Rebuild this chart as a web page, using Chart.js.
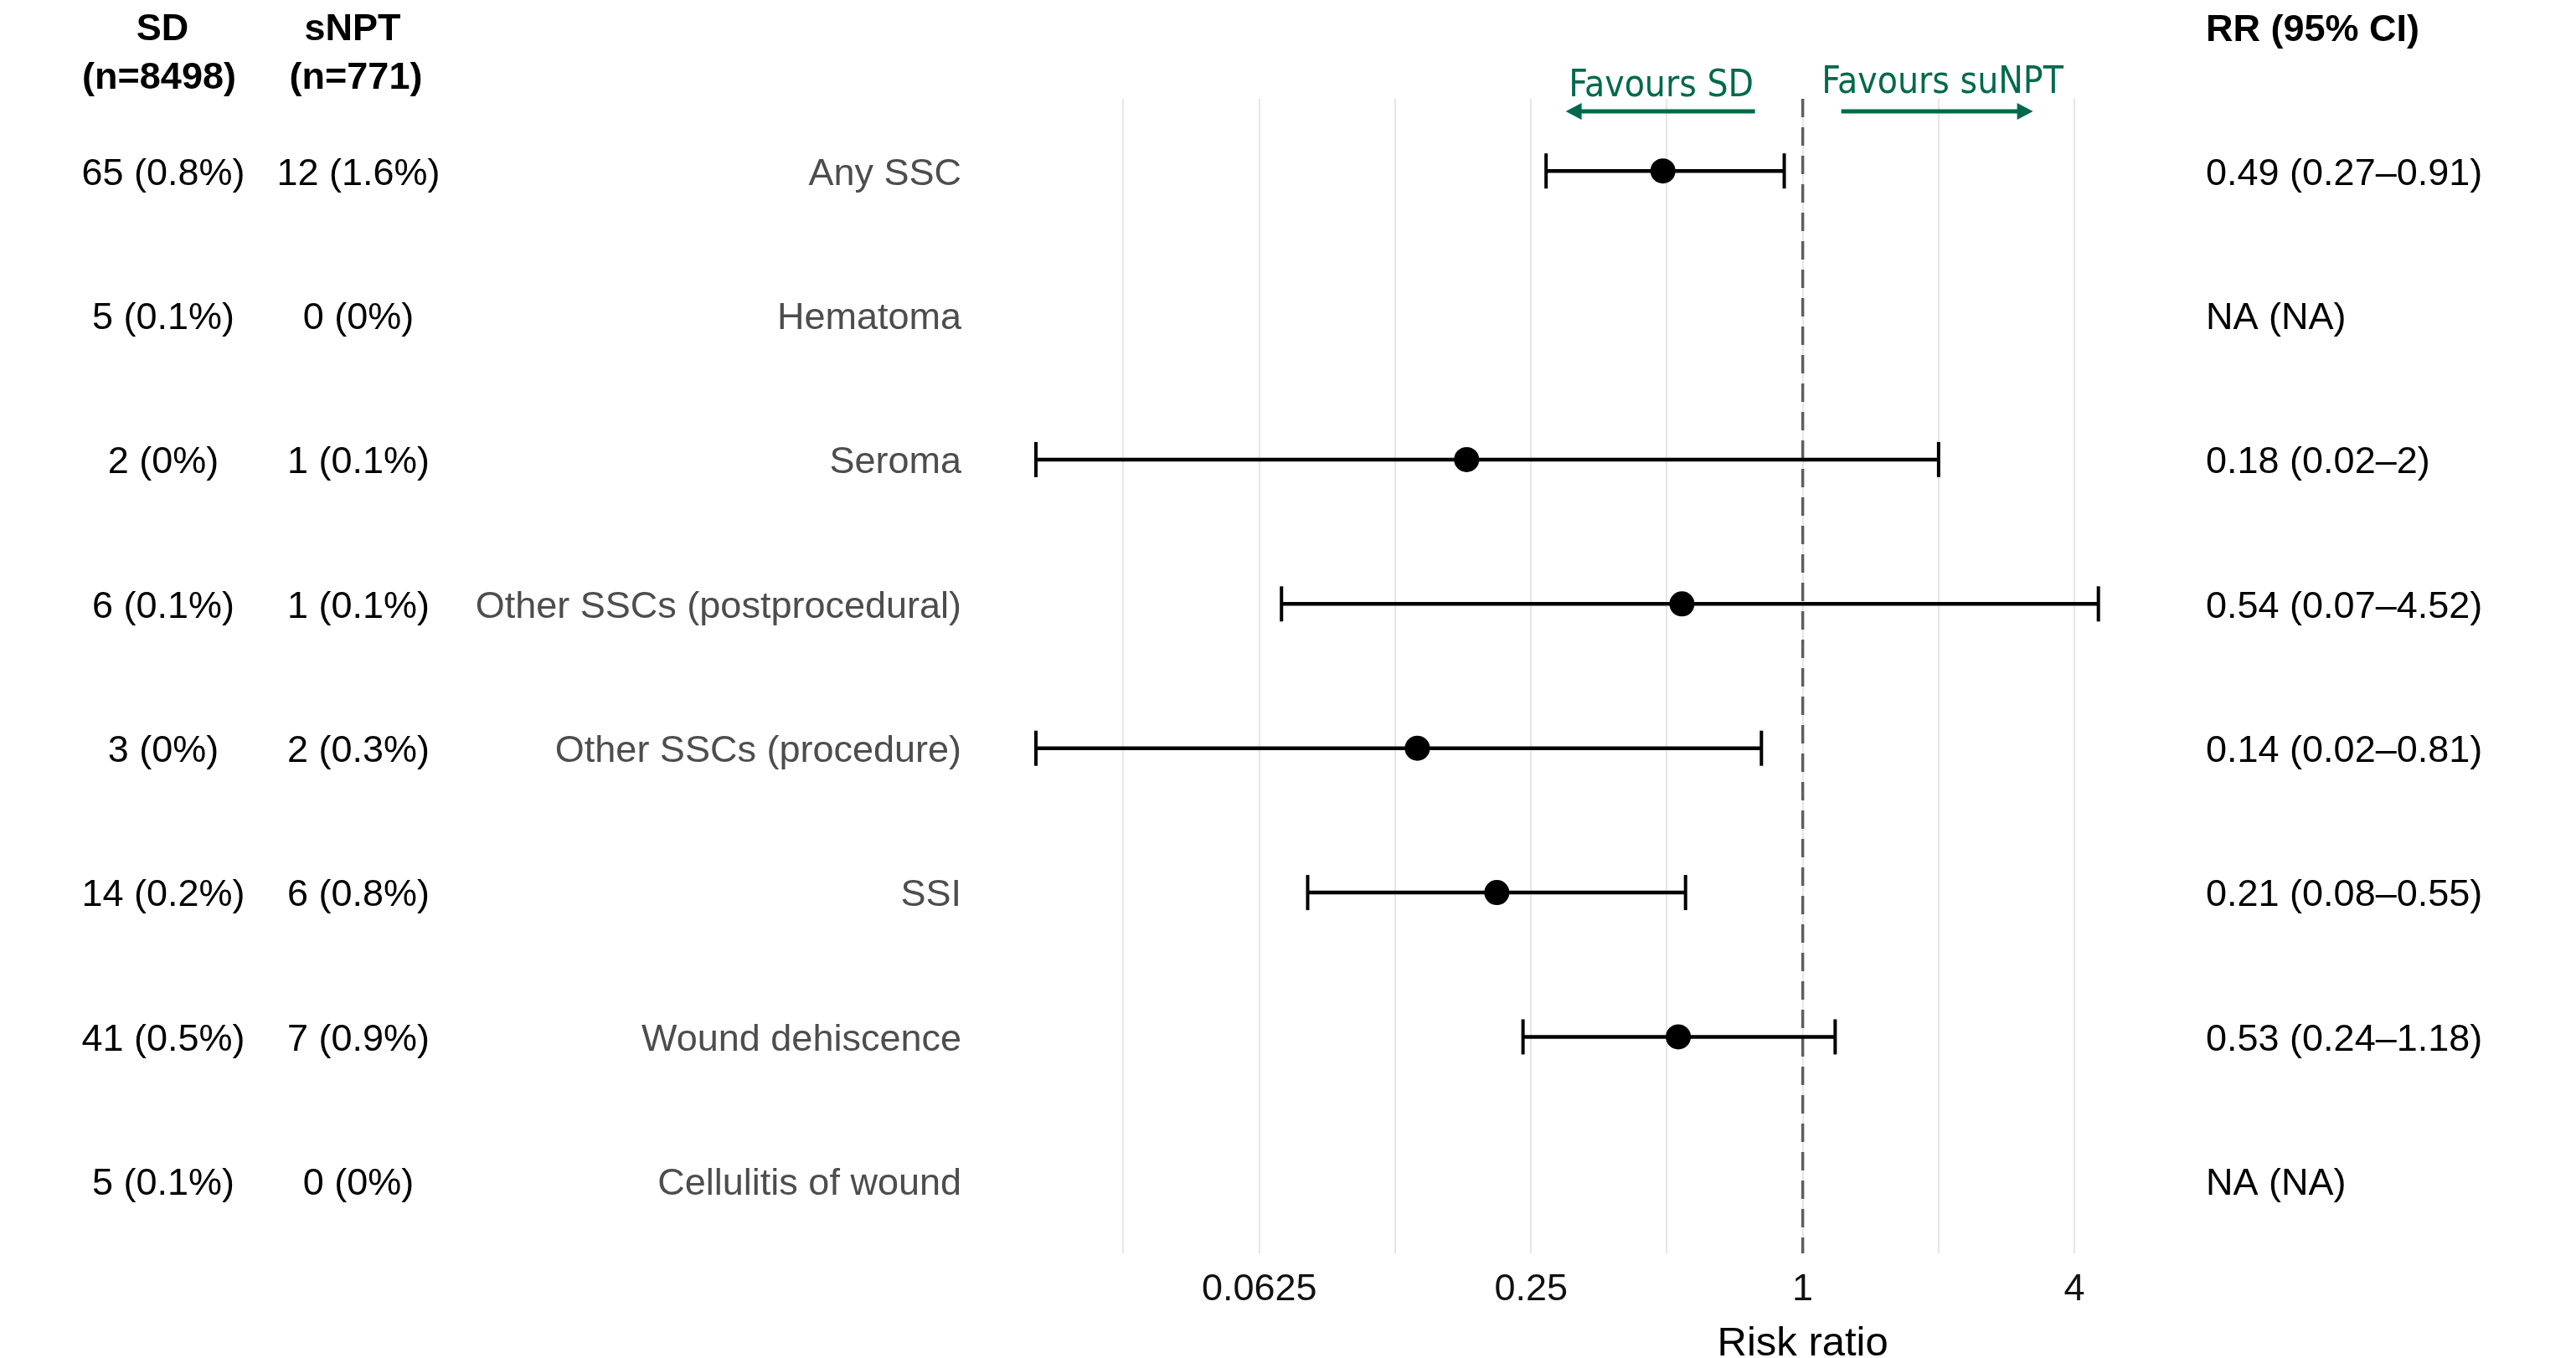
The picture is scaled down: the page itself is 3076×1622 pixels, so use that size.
<!DOCTYPE html>
<html>
<head>
<meta charset="utf-8">
<title>Surgical site complications, SD vs sNPT</title>
<script src="https://cdn.jsdelivr.net/npm/chart.js@4.4.1/dist/chart.umd.min.js"></script>
<style>
  html, body { margin: 0; padding: 0; background: #fff; }
  canvas { display: block; }
</style>
</head>
<body>
<canvas id="forestChart" width="3076" height="1622"></canvas>
<script>
// rows, top to bottom
const outcomes = ['Any SSC', 'Hematoma', 'Seroma', 'Other SSCs (postprocedural)',
  'Other SSCs (procedure)', 'SSI', 'Wound dehiscence', 'Cellulitis of wound'];
const sdEvents = [65, 5, 2, 6, 3, 14, 41, 5];
const sdPercent = [0.8, 0.1, 0, 0.1, 0, 0.2, 0.5, 0.1];
const snptEvents = [12, 0, 1, 1, 2, 6, 7, 0];
const snptPercent = [1.6, 0, 0.1, 0.1, 0.3, 0.8, 0.9, 0];
const riskRatio = [0.49, null, 0.18, 0.54, 0.14, 0.21, 0.53, null];
const ciLower = [0.27, null, 0.02, 0.07, 0.02, 0.08, 0.24, null];
const ciUpper = [0.91, null, 2, 4.52, 0.81, 0.55, 1.18, null];

// x axis: grid lines at every power of two, labels on every second one
const gridValues = [0.03125, 0.0625, 0.125, 0.25, 0.5, 1, 2, 4];
const tickValues = [0.0625, 0.25, 1, 4];
const tickLabels = ['0.0625', '0.25', '1', '4'];

const sansFont = '"Liberation Sans", Arial, Helvetica, sans-serif';
const favourGreen = '#00694c';

const ciDatasets = [];
outcomes.forEach((name, i) => {
  if (riskRatio[i] === null) return;
  ciDatasets.push({
    label: name + ' CI',
    data: [{ x: ciLower[i], y: i + 1 }, { x: ciUpper[i], y: i + 1 }],
    showLine: true,
    borderColor: '#000',
    borderWidth: 4.5,
    pointStyle: 'line',
    rotation: 90,
    pointRadius: 21,
    pointBorderWidth: 4,
    pointBorderColor: '#000',
    order: 2
  });
});

const estimatePoints = [];
outcomes.forEach((name, i) => {
  if (riskRatio[i] !== null) estimatePoints.push({ x: riskRatio[i], y: i + 1 });
});

function drawArrow(ctx, fromX, toX, y) {
  const dir = toX > fromX ? 1 : -1;
  ctx.beginPath();
  ctx.moveTo(fromX, y);
  ctx.lineTo(toX - dir * 12, y);
  ctx.stroke();
  ctx.beginPath();
  ctx.moveTo(toX, y);
  ctx.lineTo(toX - dir * 19, y - 10);
  ctx.lineTo(toX - dir * 19, y + 10);
  ctx.closePath();
  ctx.fill();
}

const forestTable = {
  id: 'forestTable',
  afterDraw(chart) {
    const ctx = chart.ctx;
    const x = chart.scales.x;
    const y = chart.scales.y;
    const refX = x.getPixelForValue(1);

    ctx.save();
    ctx.textBaseline = 'middle';

    // column headers
    ctx.fillStyle = '#000';
    ctx.font = 'bold 45px ' + sansFont;
    ctx.textAlign = 'center';
    ctx.fillText('SD', 194, 36);
    ctx.fillText('(n=8498)', 190, 94);
    ctx.fillText('sNPT', 421, 36);
    ctx.fillText('(n=771)', 425, 94);
    ctx.textAlign = 'left';
    ctx.fillText('RR (95% CI)', 2634, 37);

    outcomes.forEach((name, i) => {
      const py = y.getPixelForValue(i + 1) + 4;
      ctx.font = '45px ' + sansFont;
      ctx.fillStyle = '#000';
      ctx.textAlign = 'center';
      ctx.fillText(sdEvents[i] + ' (' + sdPercent[i] + '%)', 195, py);
      ctx.fillText(snptEvents[i] + ' (' + snptPercent[i] + '%)', 428, py);

      ctx.textAlign = 'left';
      const rrText = riskRatio[i] === null ? 'NA (NA)'
        : riskRatio[i] + ' (' + ciLower[i] + '\u2013' + ciUpper[i] + ')';
      ctx.fillText(rrText, 2634, py);

      ctx.fillStyle = '#4d4d4d';
      ctx.textAlign = 'right';
      ctx.fillText(name, 1148, py);
    });

    // axis title
    ctx.fillStyle = '#000';
    ctx.textAlign = 'center';
    ctx.font = '49px ' + sansFont;
    ctx.fillText('Risk ratio', refX, 1605);

    // favours annotation
    ctx.fillStyle = favourGreen;
    ctx.strokeStyle = favourGreen;
    ctx.lineWidth = 5;
    ctx.font = '44px "DejaVu Sans Condensed", "Liberation Sans Narrow", "DejaVu Sans", sans-serif';
    ctx.fillText('Favours SD', refX - 169, 104);
    ctx.fillText('Favours suNPT', refX + 167, 100);
    drawArrow(ctx, refX - 57, refX - 283, 133);
    drawArrow(ctx, refX + 46, refX + 275, 133);

    ctx.restore();
  }
};

new Chart(document.getElementById('forestChart'), {
  type: 'scatter',
  data: {
    datasets: [
      {
        label: 'No effect',
        data: [{ x: 1, y: 0.5 }, { x: 1, y: 8.5 }],
        showLine: true,
        borderColor: '#5f5f5f',
        borderWidth: 3.5,
        borderDash: [22, 12],
        pointRadius: 0,
        order: 3
      },
      ...ciDatasets,
      {
        label: 'Risk ratio',
        data: estimatePoints,
        pointRadius: 15,
        pointBackgroundColor: '#000',
        pointBorderWidth: 0,
        order: 1
      }
    ]
  },
  options: {
    responsive: false,
    animation: false,
    layout: { padding: { left: 1192, right: 504, top: 118, bottom: 45 } },
    plugins: {
      legend: { display: false },
      tooltip: { enabled: false }
    },
    scales: {
      x: {
        type: 'logarithmic',
        position: 'bottom',
        min: 0.0165,
        max: 6,
        afterBuildTicks: scale => {
          scale.ticks = gridValues.map(v => ({ value: v }));
        },
        afterFit: scale => { scale.height = 80; },
        ticks: {
          autoSkip: false,
          maxRotation: 0,
          padding: 17,
          color: '#111',
          font: { family: sansFont, size: 45 },
          callback: value => {
            const k = tickValues.indexOf(value);
            return k === -1 ? '' : tickLabels[k];
          }
        },
        grid: { color: '#e6e6e6', lineWidth: 2, drawTicks: false },
        border: { display: false }
      },
      y: {
        type: 'linear',
        min: 0.5,
        max: 8.5,
        reverse: true,
        display: false
      }
    }
  },
  plugins: [forestTable]
});
</script>
</body>
</html>
